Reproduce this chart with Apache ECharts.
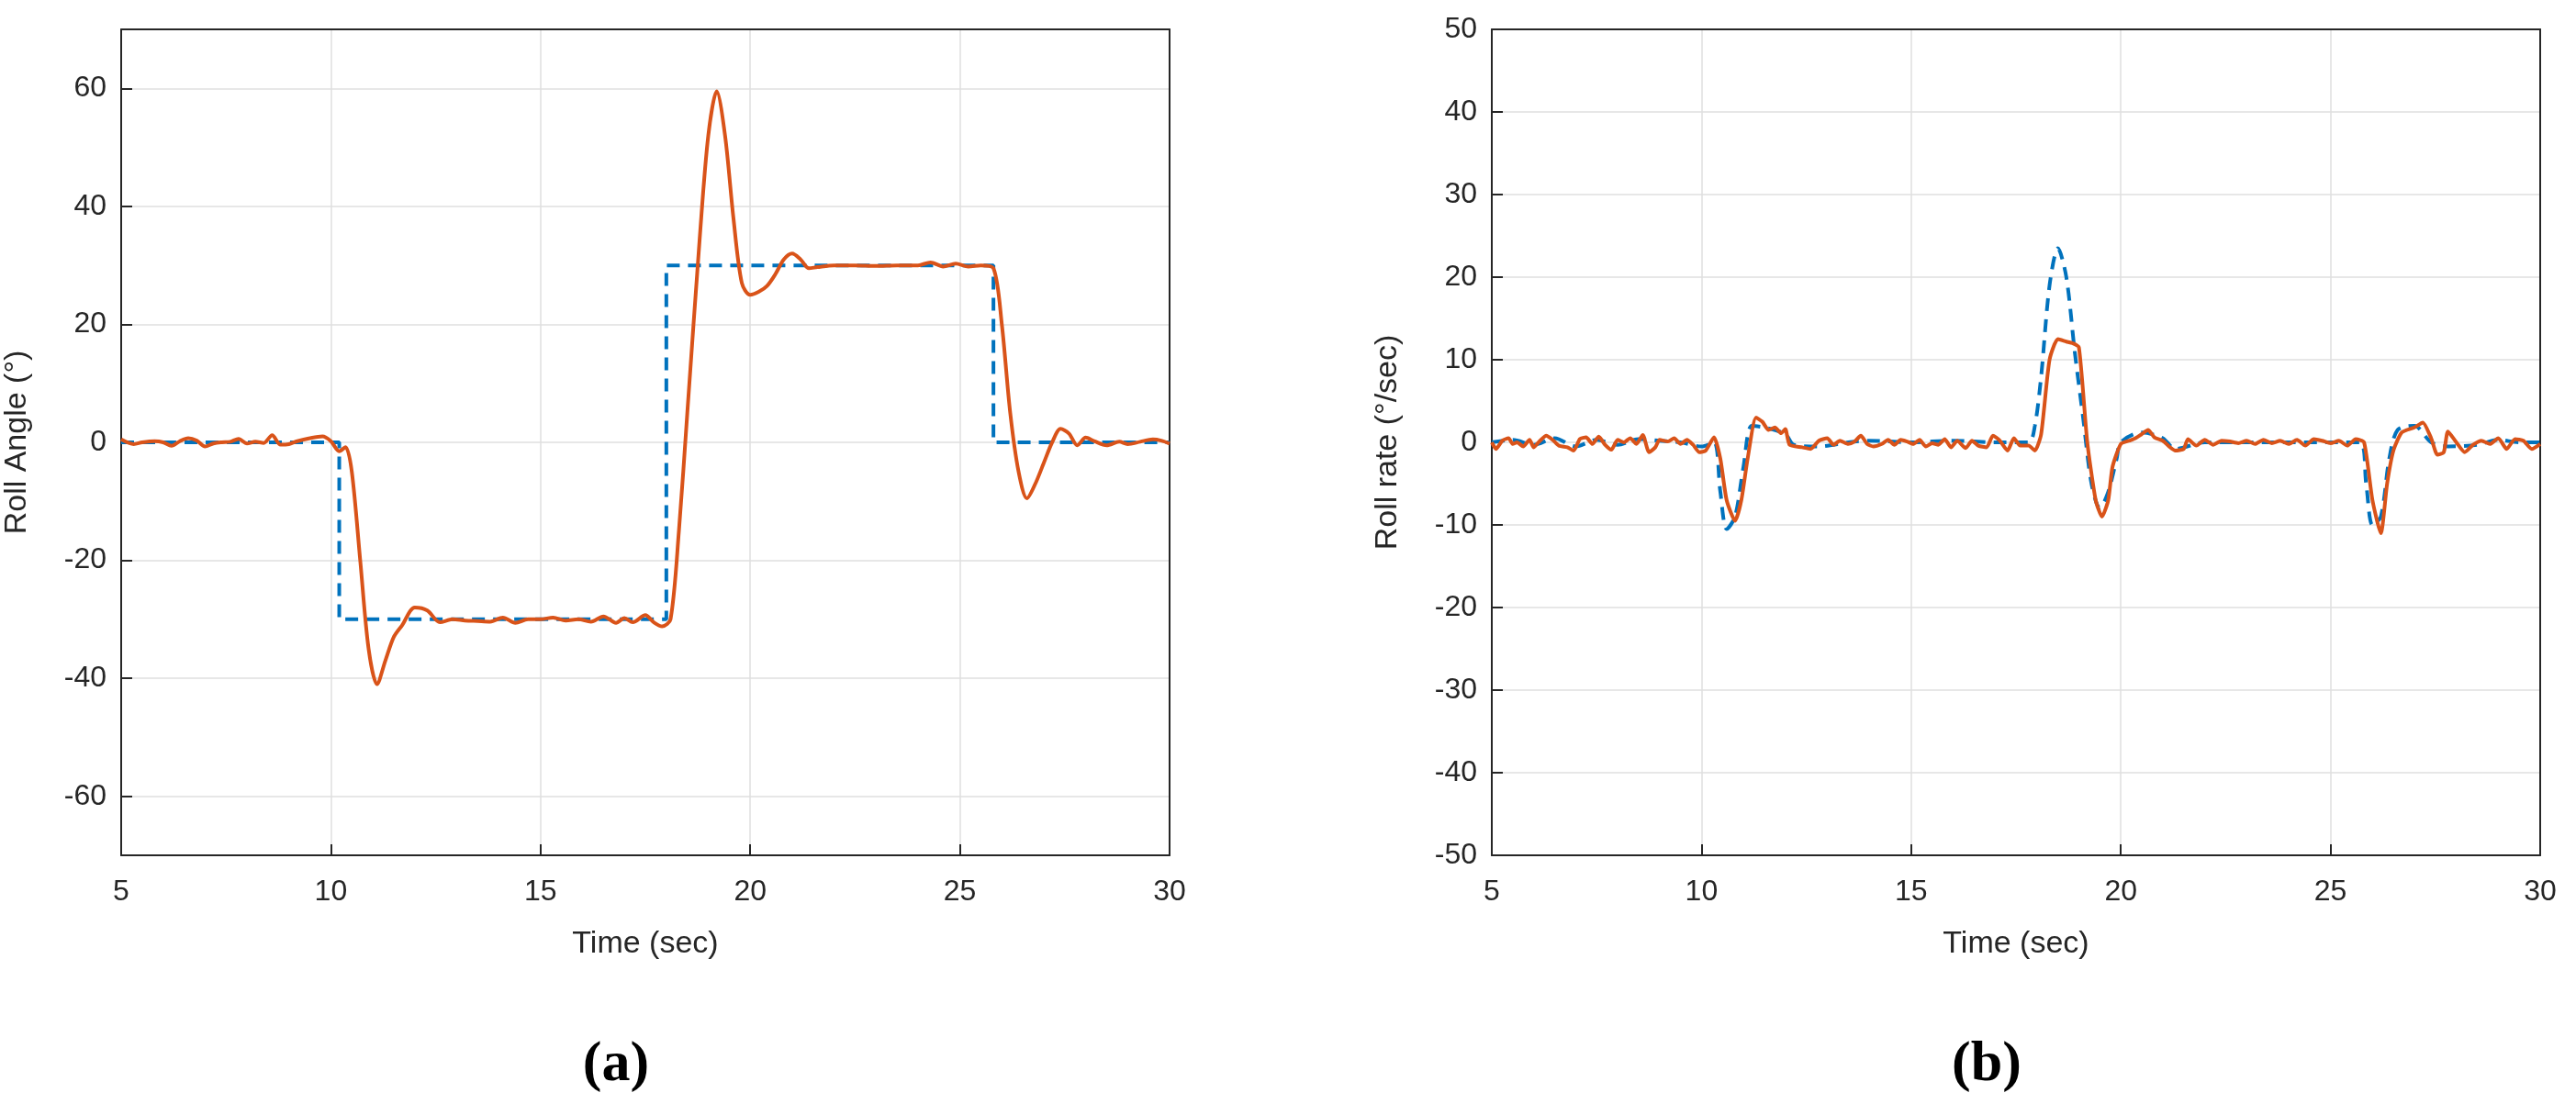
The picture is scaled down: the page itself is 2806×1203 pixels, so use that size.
<!DOCTYPE html>
<html>
<head>
<meta charset="utf-8">
<script src="https://cdn.jsdelivr.net/npm/echarts@6/dist/echarts.min.js"></script>
<style>
  html, body { margin: 0; padding: 0; background: #fff; }
  #chart { width: 2806px; height: 1203px; }
</style>
</head>
<body>
<div id="chart"></div>
<script>
// roll angle reference (step) [t, deg]
const angleRef = [
  [5, 0], [10.2, 0], [10.2, -30], [18, -30], [18, 30], [25.8, 30], [25.8, 0], [30, 0]
]
// roll angle measured [t, deg]
const angleResp = [
  [5, 0.5], [5.3, -0.3], [5.5, 0], [5.8, 0.2], [6.0, 0], [6.2, -0.6], [6.4, 0.2], [6.6, 0.7],
  [6.8, 0.3], [7.0, -0.7], [7.2, -0.2], [7.4, 0], [7.6, 0.1], [7.8, 0.6], [8.0, -0.2], [8.2, 0.1],
  [8.4, -0.1], [8.6, 1.2], [8.8, -0.4], [9.0, -0.3], [9.2, 0.2], [9.5, 0.7], [9.8, 1], [10.0, 0.2],
  [10.2, -1.5], [10.35, -0.8], [10.5, -5], [10.7, -20], [10.9, -35], [11.1, -41], [11.3, -37],
  [11.5, -33], [11.7, -31], [12.0, -28], [12.3, -28.5], [12.6, -30.5], [12.9, -30], [13.2, -30.2],
  [13.5, -30.3], [13.8, -30.4], [14.1, -29.7], [14.4, -30.6], [14.7, -30], [15.0, -30], [15.3, -29.7],
  [15.6, -30.2], [15.9, -30], [16.2, -30.4], [16.5, -29.5], [16.8, -30.6], [17.0, -29.8], [17.2, -30.5],
  [17.5, -29.3], [17.7, -30.5], [17.9, -31.2], [18.1, -30], [18.3, -15], [18.5, 5], [18.8, 35],
  [19.0, 52], [19.2, 59.5], [19.4, 52], [19.6, 38], [19.8, 27], [20.0, 25], [20.2, 25.5], [20.4, 26.5],
  [20.6, 28.5], [20.8, 31], [21.0, 32], [21.2, 31], [21.4, 29.5], [21.6, 29.7], [22.0, 30], [22.5, 30],
  [23, 29.9], [23.5, 30], [24.0, 30], [24.3, 30.5], [24.6, 29.8], [24.9, 30.3], [25.2, 29.8], [25.5, 30],
  [25.8, 29.5], [26.0, 20], [26.2, 5], [26.4, -5], [26.6, -9.5], [26.8, -7], [27.0, -3.5], [27.2, 0],
  [27.4, 2.3], [27.6, 1.5], [27.8, -0.5], [28.0, 0.8], [28.2, 0.2], [28.5, -0.5], [28.8, 0.1],
  [29.0, -0.3], [29.3, 0.1], [29.6, 0.5], [29.8, 0.3], [30, -0.2]
]
// roll rate reference [t, deg/s]
const rateRef = [
  [5, 0], [5.5, 0.3], [6, -0.3], [6.5, 0.5], [7, -0.5], [7.5, 0.3], [8, -0.3], [8.5, 0.4], [9, 0.2],
  [9.5, 0], [10.0, -0.5], [10.3, 0], [10.45, -6], [10.6, -10.5], [10.8, -9], [11.0, -3], [11.2, 2],
  [11.5, 1.8], [12, 1], [12.2, -0.3], [12.8, -0.5], [13.5, 0], [14, 0.2], [15, 0], [16, 0.2], [17, 0],
  [17.8, 0], [17.95, 2], [18.1, 8], [18.3, 19], [18.5, 23.5], [18.7, 20], [18.9, 11], [19.1, 3],
  [19.3, -5], [19.5, -8], [19.7, -6], [19.9, -2], [20.0, 0], [20.5, 1.2], [21, 0.5], [21.3, -0.8],
  [22, 0], [23, 0], [24, 0], [25, 0], [25.7, 0], [25.85, -5], [26.0, -10], [26.2, -9], [26.4, -2],
  [26.6, 1.5], [27.0, 2], [27.4, 0], [27.8, -0.5], [28.5, -0.3], [29, 0.3], [29.5, 0], [30, 0]
]
// roll rate measured [t, deg/s]
const rateResp = [
  [5, 0], [5.1, -0.8], [5.25, 0.2], [5.4, 0.5], [5.5, -0.2], [5.6, 0], [5.75, -0.5], [5.9, 0.3],
  [6.0, -0.6], [6.15, 0.2], [6.3, 0.8], [6.45, 0.3], [6.6, -0.4], [6.8, -0.6], [6.95, -1], [7.1, 0.4],
  [7.25, 0.6], [7.4, -0.2], [7.55, 0.7], [7.7, -0.3], [7.85, -0.9], [8.0, 0.3], [8.15, 0], [8.3, 0.5],
  [8.45, -0.2], [8.6, 0.9], [8.75, -1.2], [8.9, -0.6], [9.0, 0.3], [9.2, 0.1], [9.35, 0.5], [9.5, -0.2],
  [9.65, 0.3], [9.8, -0.3], [9.95, -1.2], [10.1, -1], [10.3, 0.6], [10.45, -2], [10.6, -7],
  [10.8, -9.5], [10.95, -7], [11.1, -2], [11.3, 3], [11.45, 2.5], [11.6, 1.5], [11.75, 1.8],
  [11.9, 1.1], [12.0, 1.6], [12.1, -0.3], [12.4, -0.6], [12.6, -0.8], [12.8, 0.2], [13.0, 0.5],
  [13.15, -0.3], [13.3, 0.2], [13.5, -0.2], [13.65, 0.1], [13.8, 0.8], [13.95, -0.2], [14.1, -0.5],
  [14.3, -0.2], [14.45, 0.3], [14.6, -0.3], [14.75, 0.3], [14.9, 0.1], [15.05, -0.2], [15.2, 0.3],
  [15.35, -0.5], [15.5, -0.1], [15.65, -0.3], [15.8, 0.4], [15.95, -0.6], [16.1, 0.2], [16.3, -0.7],
  [16.45, 0.2], [16.6, -0.4], [16.8, -0.6], [16.95, 0.8], [17.1, 0.3], [17.3, -1], [17.45, 0.5],
  [17.6, -0.4], [17.8, -0.4], [17.95, -1], [18.1, 1], [18.3, 10], [18.5, 12.5], [18.7, 12.2],
  [18.85, 12], [19.0, 11.5], [19.2, 0], [19.4, -7], [19.55, -9], [19.7, -7], [19.8, -3], [20.0, -0.2],
  [20.2, 0.2], [20.35, 0.5], [20.5, 1], [20.65, 1.5], [20.8, 0.6], [21.0, 0.2], [21.15, -0.5],
  [21.3, -1], [21.5, -0.8], [21.6, 0.4], [21.8, -0.4], [22.0, 0.3], [22.2, -0.3], [22.4, 0.2],
  [22.6, 0.1], [22.8, -0.1], [23.0, 0.2], [23.2, -0.2], [23.4, 0.3], [23.6, -0.1], [23.8, 0.2],
  [24.0, -0.2], [24.2, 0.3], [24.4, -0.4], [24.6, 0.4], [24.8, 0.2], [25.0, -0.1], [25.2, 0.2],
  [25.4, -0.4], [25.6, 0.4], [25.8, 0], [26.0, -7], [26.2, -11], [26.35, -5], [26.5, -1],
  [26.7, 1.2], [27.0, 1.8], [27.2, 2.4], [27.4, 0.5], [27.55, -1.5], [27.7, -1.2], [27.8, 1.3],
  [28.0, 0], [28.2, -1.2], [28.4, -0.3], [28.6, 0.2], [28.8, -0.2], [29.0, 0.5], [29.2, -0.8],
  [29.4, 0.4], [29.6, 0.2], [29.8, -0.8], [30, -0.2]
]
const xTicks = [5, 10, 15, 20, 25, 30]
const angleTicks = [-60, -40, -20, 0, 20, 40, 60]

const myChart = echarts.init(document.getElementById('chart'))
const font = 'Liberation Sans'
const blue = '#0072BD'
const orange = '#D95319'
const dark = '#262626'

function xAxisOpt (gi) {
  return {
    type: 'value', gridIndex: gi, min: xTicks[0], max: xTicks[xTicks.length - 1], interval: 5,
    name: 'Time (sec)', nameLocation: 'middle', nameGap: 80,
    nameTextStyle: { fontFamily: font, fontSize: 34, color: dark },
    axisLine: { onZero: false, lineStyle: { color: dark, width: 2 } },
    axisTick: { inside: true, length: 12, lineStyle: { color: dark, width: 2 } },
    axisLabel: { fontFamily: font, fontSize: 32, color: dark, margin: 24 },
    splitLine: { show: true, lineStyle: { color: '#dfdfdf', width: 1.5 } }
  }
}
function yAxisOpt (gi, min, max, interval, name, ticks) {
  const o = {
    type: 'value', gridIndex: gi, min, max, interval,
    name, nameLocation: 'middle', nameGap: 96,
    nameTextStyle: { fontFamily: font, fontSize: 34, color: dark },
    axisLine: { onZero: false, lineStyle: { color: dark, width: 2 } },
    axisTick: { inside: true, length: 12, lineStyle: { color: dark, width: 2 } },
    axisLabel: { fontFamily: font, fontSize: 32, color: dark, margin: 16 },
    splitLine: { show: true, lineStyle: { color: '#dfdfdf', width: 1.5 } }
  }
  if (ticks) {
    o.axisTick.customValues = ticks
    o.axisLabel.customValues = ticks
  }
  return o
}
// box edges on top/right
function boxAxes (gi) {
  const st = { onZero: false, lineStyle: { color: dark, width: 2 } }
  return [
    { type: 'value', gridIndex: gi, position: 'top', min: 0, max: 1, axisLine: st, axisTick: { show: false }, axisLabel: { show: false }, splitLine: { show: false } },
    { type: 'value', gridIndex: gi, position: 'right', min: 0, max: 1, axisLine: st, axisTick: { show: false }, axisLabel: { show: false }, splitLine: { show: false } }
  ]
}
const boxA = boxAxes(0)
const boxB = boxAxes(1)

const option = {
  animation: false,
  backgroundColor: '#fff',
  grid: [
    { left: 132, top: 32, width: 1142, height: 900 },
    { left: 1625, top: 32, width: 1142, height: 900 }
  ],
  xAxis: [xAxisOpt(0), xAxisOpt(1), boxA[0], boxB[0]],
  yAxis: [
    yAxisOpt(0, -70, 70, 10, 'Roll Angle (°)', angleTicks),
    yAxisOpt(1, -50, 50, 10, 'Roll rate (°/sec)'),
    boxA[1], boxB[1]
  ],
  series: [
    { type: 'line', xAxisIndex: 0, yAxisIndex: 0, data: angleRef, symbol: 'none', lineStyle: { color: blue, width: 4, type: [14, 9] } },
    { type: 'line', xAxisIndex: 0, yAxisIndex: 0, data: angleResp, symbol: 'none', smooth: 0.3, lineStyle: { color: orange, width: 4 } },
    { type: 'line', xAxisIndex: 1, yAxisIndex: 1, data: rateRef, symbol: 'none', smooth: 0.3, lineStyle: { color: blue, width: 4, type: [14, 9] } },
    { type: 'line', xAxisIndex: 1, yAxisIndex: 1, data: rateResp, symbol: 'none', smooth: 0.2, lineStyle: { color: orange, width: 4 } }
  ],
  graphic: [
    { type: 'text', x: 671, y: 1161, style: { text: '(a)', font: 'bold 62px "Liberation Serif"', fill: '#000', align: 'center', verticalAlign: 'middle' } },
    { type: 'text', x: 2164, y: 1161, style: { text: '(b)', font: 'bold 62px "Liberation Serif"', fill: '#000', align: 'center', verticalAlign: 'middle' } }
  ]
}
myChart.setOption(option)
</script>
</body>
</html>
